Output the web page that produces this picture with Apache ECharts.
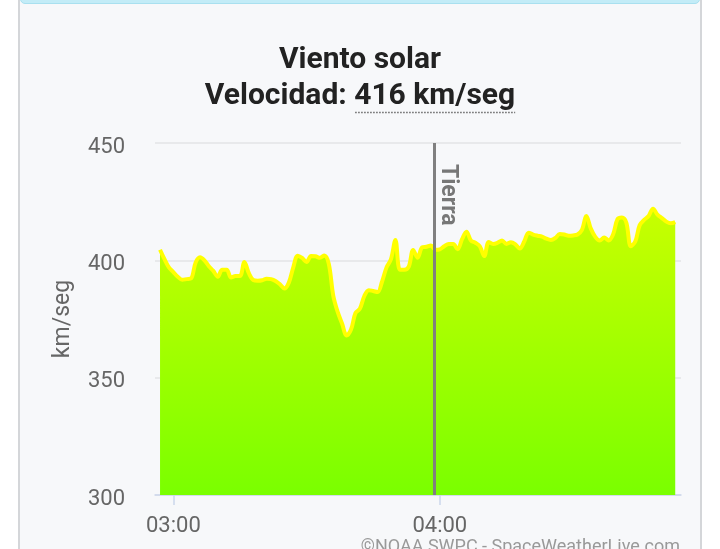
<!DOCTYPE html>
<html>
<head>
<meta charset="utf-8">
<script src="https://cdn.jsdelivr.net/npm/echarts@6/dist/echarts.min.js"></script>
<style>
  html, body { margin: 0; padding: 0; background: #ffffff; width: 720px; height: 549px; overflow: hidden; }
  #panel { position: absolute; left: 18px; top: 0; width: 684px; height: 549px; background: #f7f8fa;
           border-left: 2px solid #d4d6d9; border-right: 2px solid #d4d6d9; box-sizing: border-box; }
  #topbar { position: absolute; left: 20px; top: -6px; width: 680px; height: 10px; background: #c3ecf7;
            border: 1px solid #a9e0ef; border-radius: 6px; box-sizing: border-box; }
  #chart { position: absolute; left: 0; top: 0; width: 720px; height: 549px; }
</style>
</head>
<body>
<div id="panel"></div>
<div id="topbar"></div>
<div id="chart"></div>
<script>
// ---- data ----
const startTime = "02:57";       // first sample, one sample per minute
const speeds = [
  404.5, 400.5, 397, 395, 393, 391.7, 392, 392.3, 399, 401.3,
  400, 397.5, 395.5, 393, 396, 396, 392.7, 393.3, 393.3, 399.3,
  394.5, 391.6, 391.3, 391.5, 392.2, 392, 391.2, 389.8, 388, 390.5,
  397, 402, 401, 399.3, 401.8, 401.7, 401.1, 402.1, 398.5, 385,
  378, 373, 368, 370.5, 377.5, 379.4, 384.8, 387.3, 386.9, 386.5,
  391, 397, 400.5, 408.7, 396, 396, 397.3, 404.4, 401.1, 405.5,
  405.8, 406.3, 404.5, 404.7, 406, 407, 407, 404.7, 409, 412.2,
  408.5, 407.5, 406, 401.8, 407.8, 407, 407.5, 408.5, 407, 407.7,
  406.8, 405, 408, 411.8, 411, 410.5, 410.1, 409.2, 408.7, 409.5,
  411.2, 411, 410.5, 410.6, 411, 413, 418.9, 413.5, 410, 408.4,
  409.7, 408.5, 411, 417.5, 418.2, 416, 406, 408, 415, 417.2,
  418.9, 422, 419.5, 418, 416.5, 415.8, 416.3
];
const xTickLabels = ["03:00", "04:00"];
const yTicks = [300, 350, 400, 450];
const earthTime = "03:58:50";
const axisStart = "02:55:52";
const axisEnd = "04:54:18";
const currentSpeed = 416;

// ---- helpers ----
function toMin(s) {
  const p = s.split(":").map(Number);
  return p[0] * 60 + p[1] + (p[2] || 0) / 60;
}
function fmt(m) {
  const h = Math.floor(m / 60), mm = Math.round(m - h * 60);
  return String(h).padStart(2, "0") + ":" + String(mm).padStart(2, "0");
}
const t0 = toMin(startTime);
const seriesData = speeds.map((v, i) => [t0 + i, v]);
const tickVals = xTickLabels.map(toMin);
const earthX = toMin(earthTime);

// text measuring for title underline
const cv = document.createElement("canvas").getContext("2d");
const titleFont = "bold 30px Roboto";
cv.font = titleFont;
const part1 = "Velocidad: ";
const part2 = currentSpeed + " km/seg";
const w1 = cv.measureText(part1).width;
const w2 = cv.measureText(part2).width;
const startX = 360 - (w1 + w2) / 2;

const chart = echarts.init(document.getElementById("chart"), null, { renderer: "canvas" });
chart.setOption({
  backgroundColor: "transparent",
  animation: false,
  textStyle: { fontFamily: "Roboto" },
  grid: { left: 155, right: 39, top: 143, bottom: 54, containLabel: false },
  xAxis: {
    type: "value",
    min: toMin(axisStart),
    max: toMin(axisEnd),
    axisLine: { show: true, lineStyle: { color: "#ccd6eb", width: 1.5 } },
    splitLine: { show: false },
    axisTick: { show: true, customValues: tickVals, length: 10, lineStyle: { color: "#ccd6eb", width: 1.5 } },
    axisLabel: { customValues: tickVals, formatter: v => fmt(v), color: "#666666", fontSize: 22, margin: 20, fontFamily: "Roboto" }
  },
  yAxis: {
    type: "value",
    min: 300, max: 450, interval: 50,
    name: "km/seg",
    nameLocation: "middle",
    nameGap: 80,
    nameTextStyle: { color: "#666666", fontSize: 23, fontFamily: "Roboto" },
    axisLine: { show: false },
    axisTick: { show: false },
    splitLine: { lineStyle: { color: "#e3e4e6", width: 1.5 } },
    axisLabel: { color: "#666666", fontSize: 22, margin: 30, fontFamily: "Roboto",
                 verticalAlign: "top", lineHeight: 8, customValues: yTicks }
  },
  series: [{
    type: "line",
    data: seriesData,
    smooth: 0.35,
    showSymbol: false,
    symbol: "none",
    z: 2,
    lineStyle: { color: "#ffff00", width: 4 },
    areaStyle: {
      origin: "start",
      opacity: 1,
      color: new echarts.graphic.LinearGradient(0, 0, 0, 1, [
        { offset: 0, color: "#c8ff00" },
        { offset: 1, color: "#7aff00" }
      ])
    },
    markLine: {
      silent: true,
      symbol: "none",
      animation: false,
      lineStyle: { color: "#808080", width: 3, type: "solid" },
      label: {
        show: true,
        formatter: "Tierra",
        position: "insideStartTop",
        distance: [21, 2],
        color: "#777777",
        fontSize: 23,
        fontWeight: "bold",
        fontFamily: "Roboto"
      },
      data: [[{ coord: [earthX, 450] }, { coord: [earthX, 300] }]]
    }
  }],
  graphic: [
    { type: "text", left: "center", top: 45,
      style: { text: "Viento solar", font: titleFont, fill: "#222222" } },
    { type: "text", x: startX, y: 81,
      style: { text: part1 + part2, font: titleFont, fill: "#222222", textAlign: "left" } },
    { type: "line", shape: { x1: startX + w1 + 1, y1: 112.5, x2: startX + w1 + w2, y2: 112.5 },
      style: { stroke: "#666666", lineWidth: 1.5, lineDash: [1.5, 1.5] } },
    { type: "text", right: 40, top: 538,
      style: { text: "©NOAA SWPC - SpaceWeatherLive.com", font: "18px Roboto", fill: "#999999" } }
  ]
});
</script>
</body>
</html>
